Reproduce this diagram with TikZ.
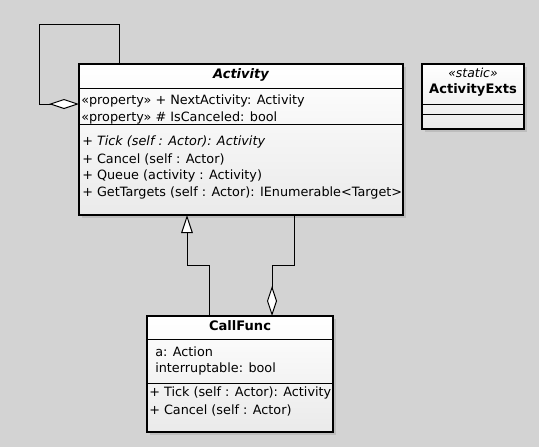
\documentclass[tikz,border=0pt]{standalone}
\usepackage{fontspec}
\setmainfont{DejaVu Sans}
\usetikzlibrary{arrows.meta,shadows,fit}
\definecolor{bg}{RGB}{211,211,211}
\definecolor{boxbot}{RGB}{234,234,234}
\begin{document}
\begin{tikzpicture}[x=0.75pt,y=-0.75pt,
  umlbox/.style={draw=black, line width=0.8pt, inner sep=0pt, top color=white, bottom color=boxbot,
    drop shadow={shadow xshift=2pt, shadow yshift=-2pt, opacity=0.1, fill=black}},
  sep/.style={draw=black, line width=0.75pt},
  txt/.style={inner sep=0pt, anchor=west, font=\fontsize{9.6}{11}\selectfont},
  ttl/.style={inner sep=0pt, font=\fontsize{9.8}{11}\selectfont\bfseries},
  conn/.style={draw=black, line width=0.75pt},
  aggr/.style={conn, -{Diamond[length=22.5pt,width=7.5pt,fill=white,line width=0.75pt]}},
  gen/.style={conn, -{Triangle[length=13.5pt,width=8.7pt,fill=white,line width=0.75pt]}}
]
\fill[bg] (0,0) rectangle (539,447);
\useasboundingbox (0,0) rectangle (539,447);

% Activity
\node[umlbox, fit={(79,64) (403,215)}] (act) {};
\draw[sep] (79,88) -- (403,88);
\draw[sep] (79,124) -- (403,124);
\node[ttl, font=\fontsize{9.8}{11}\selectfont\bfseries\itshape] (actT) at (241,75) {Activity};
\node[txt] (a1) at (81,101) {«property» + NextActivity: Activity};
\node[txt] (a2) at (81,118) {«property» \# IsCanceled: bool};
\node[txt] (m1) at (82,142) {+ \textit{Tick (self : Actor): Activity}};
\node[txt] (m2) at (82,159) {+ Cancel (self : Actor)};
\node[txt] (m3) at (82,176) {+ Queue (activity : Activity)};
\node[txt] (m4) at (82,193) {+ GetTargets (self : Actor): IEnumerable<Target>};

% ActivityExts
\node[umlbox, fit={(422,64) (524,129)}] (ext) {};
\draw[sep] (422,104) -- (524,104);
\draw[sep] (422,114) -- (524,114);
\node[inner sep=0pt, font=\fontsize{9.3}{10}\selectfont\itshape] (extS) at (473,73) {«static»};
\node[ttl] (extT) at (473,90) {ActivityExts};

% CallFunc
\node[umlbox, fit={(147,316) (333,432)}] (cf) {};
\draw[sep] (147,339) -- (333,339);
\draw[sep] (147,383) -- (333,383);
\node[ttl] (cfT) at (240,326) {CallFunc};
\node[txt] (c1) at (155,352) {a: Action};
\node[txt] (c2) at (155,369) {interruptable: bool};
\node[txt] (c3) at (149,393) {+ Tick (self : Actor): Activity};
\node[txt] (c4) at (149,410) {+ Cancel (self : Actor)};

% connector endpoints
\coordinate (loopS) at (119,64);
\coordinate (loopE) at (79,104);
\coordinate (genS) at (209,316);
\coordinate (genE) at (187,215);
\coordinate (agS) at (294,215);
\coordinate (agE) at (272,316);

% self aggregation
\draw[aggr] (loopS) -- (119,24) -- (39,24) -- (39,104) -- (loopE);
% generalization
\draw[gen] (genS) -- (209,265) -- (187,265) -- (genE);
% aggregation
\draw[aggr] (agS) -- (294,265) -- (272,265) -- (agE);
\end{tikzpicture}
\end{document}
